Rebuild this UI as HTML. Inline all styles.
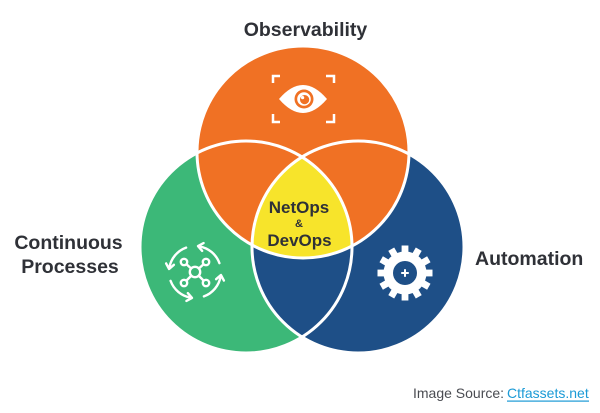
<!DOCTYPE html>
<html>
<head>
<meta charset="utf-8">
<style>
html,body{margin:0;padding:0;background:#fff;}
body{width:600px;height:413px;overflow:hidden;}
svg{display:block;}
text{font-family:"Liberation Sans",sans-serif;}
</style>
</head>
<body>
<svg width="600" height="413" viewBox="0 0 600 413" xmlns="http://www.w3.org/2000/svg">
  <defs>
    <clipPath id="cg"><circle cx="246" cy="247" r="106"/></clipPath>
    <clipPath id="cb"><circle cx="358" cy="247" r="106"/></clipPath>
  </defs>
  <rect width="600" height="413" fill="#ffffff"/>

  <!-- circles -->
  <circle cx="246" cy="247" r="106" fill="#3CB878"/>
  <circle cx="358" cy="247" r="106" fill="#1E4F87"/>
  <circle cx="303" cy="152" r="106" fill="#F07124"/>
  <g clip-path="url(#cg)">
    <g clip-path="url(#cb)">
      <circle cx="303" cy="152" r="106" fill="#F7E42B"/>
    </g>
  </g>
  <!-- white outlines -->
  <g fill="none" stroke="#ffffff" stroke-width="3">
    <circle cx="246" cy="247" r="106"/>
    <circle cx="358" cy="247" r="106"/>
    <circle cx="303" cy="152" r="106"/>
  </g>

  <!-- eye icon -->
  <g fill="none" stroke="#ffffff" stroke-width="2.5">
    <path d="M273,83 V76 H280"/>
    <path d="M326,76 H334 V83"/>
    <path d="M273,114 V122 H280"/>
    <path d="M326,122 H334 V114"/>
  </g>
  <path d="M279,99 Q303,71 327,99 Q303,127 279,99 Z" fill="#ffffff"/>
  <circle cx="304" cy="99" r="9.5" fill="#F07124"/>
  <circle cx="304" cy="99" r="6.8" fill="#ffffff"/>
  <circle cx="304.6" cy="99.6" r="4.6" fill="#F07124"/>
  <circle cx="302.6" cy="97.6" r="1.6" fill="#ffffff"/>

  <!-- continuous processes icon -->
  <g fill="none" stroke="#ffffff" stroke-width="2.4" stroke-linecap="round" stroke-linejoin="round">
    <path d="M203.9,296.4 A26,26 0 0 0 220.6,276.5"/>
    <path d="M170.6,280.9 A26,26 0 0 0 190.5,297.6"/>
    <path d="M186.1,247.6 A26,26 0 0 0 169.4,267.5"/>
    <path d="M219.4,263.1 A26,26 0 0 0 199.5,246.4"/>
    <polyline points="223.9,280.6 220.9,275.0 216.1,279.2"/>
    <polyline points="186.4,300.9 192.0,297.9 187.8,293.1"/>
    <polyline points="166.1,263.4 169.1,269.0 173.9,264.8"/>
    <polyline points="203.6,243.1 198.0,246.1 202.2,250.9"/>
    <line x1="195" y1="272" x2="184" y2="262"/>
    <line x1="195" y1="272" x2="206" y2="262"/>
    <line x1="195" y1="272" x2="184" y2="283"/>
    <line x1="195" y1="272" x2="206" y2="283"/>
  </g>
  <g fill="#3CB878" stroke="#ffffff" stroke-width="2.4">
    <circle cx="195" cy="272" r="5.2"/>
    <circle cx="184" cy="262" r="3.2"/>
    <circle cx="206" cy="262" r="3.2"/>
    <circle cx="184" cy="283" r="3.2"/>
    <circle cx="206" cy="283" r="3.2"/>
  </g>

  <!-- gear icon -->
  <g transform="translate(405,273)" fill="#ffffff">
    <circle r="21.5"/>
    <rect x="-3.4" y="-27.5" width="6.8" height="10" transform="rotate(0)"/>
    <rect x="-3.4" y="-27.5" width="6.8" height="10" transform="rotate(30)"/>
    <rect x="-3.4" y="-27.5" width="6.8" height="10" transform="rotate(60)"/>
    <rect x="-3.4" y="-27.5" width="6.8" height="10" transform="rotate(90)"/>
    <rect x="-3.4" y="-27.5" width="6.8" height="10" transform="rotate(120)"/>
    <rect x="-3.4" y="-27.5" width="6.8" height="10" transform="rotate(150)"/>
    <rect x="-3.4" y="-27.5" width="6.8" height="10" transform="rotate(180)"/>
    <rect x="-3.4" y="-27.5" width="6.8" height="10" transform="rotate(210)"/>
    <rect x="-3.4" y="-27.5" width="6.8" height="10" transform="rotate(240)"/>
    <rect x="-3.4" y="-27.5" width="6.8" height="10" transform="rotate(270)"/>
    <rect x="-3.4" y="-27.5" width="6.8" height="10" transform="rotate(300)"/>
    <rect x="-3.4" y="-27.5" width="6.8" height="10" transform="rotate(330)"/>
    <circle r="12" fill="#1E4F87"/>
    <rect x="-3.8" y="-1" width="7.6" height="2" fill="#ffffff"/>
    <rect x="-1" y="-3.8" width="2" height="7.6" fill="#ffffff"/>
  </g>

  <!-- labels -->
  <text x="305.5" y="36" text-anchor="middle" font-size="19.5" font-weight="bold" fill="#2F3137">Observability</text>
  <text x="68.5" y="249" text-anchor="middle" font-size="19.5" font-weight="bold" fill="#2F3137">Continuous</text>
  <text x="70" y="273" text-anchor="middle" font-size="19.5" font-weight="bold" fill="#2F3137">Processes</text>
  <text x="475" y="265" font-size="19.5" font-weight="bold" fill="#2F3137">Automation</text>

  <text x="299" y="213" text-anchor="middle" font-size="17" font-weight="bold" fill="#2F3137">NetOps</text>
  <text x="299" y="227" text-anchor="middle" font-size="11" font-weight="bold" fill="#2F3137">&amp;</text>
  <text x="299.5" y="246" text-anchor="middle" font-size="17" font-weight="bold" fill="#2F3137">DevOps</text>

  <text x="413" y="398" font-size="14" fill="#4A4C52">Image Source:</text>
  <text x="507" y="398" font-size="14" fill="#1B9AD6">Ctfassets.net</text>
  <rect x="507" y="400.5" width="82" height="1.2" fill="#1B9AD6"/>
</svg>
</body>
</html>
